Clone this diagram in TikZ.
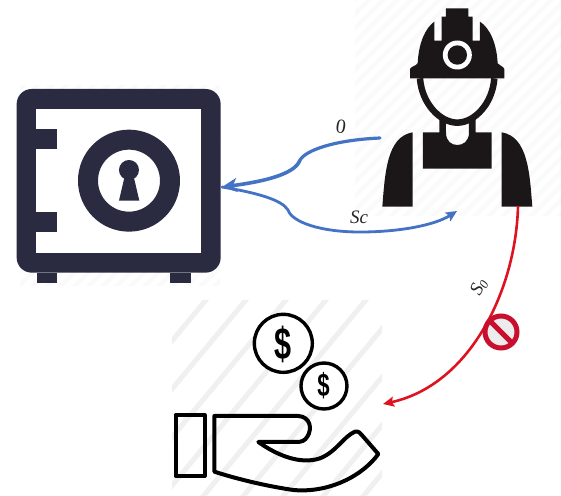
\documentclass[tikz,border=0pt]{standalone}
\usepackage{fontspec}
\setmainfont{Liberation Serif}
\usetikzlibrary{arrows.meta}
\newfontfamily\dollarfont{Liberation Sans}
\definecolor{safenavy}{HTML}{2A2A40}
\definecolor{workerblack}{HTML}{1B1718}
\definecolor{linkblue}{HTML}{4472C4}
\definecolor{linkred}{HTML}{DD1420}
\definecolor{signred}{HTML}{C8102E}
\definecolor{stripegrey}{HTML}{F0F0F0}
\definecolor{faintgrey}{HTML}{FAFAFA}
\tikzset{
  x=1pt,y=-1pt,
  zoomed/.style={x=0.3333pt,y=-0.3333pt},
  safeink/.style={fill=safenavy,draw=none},
  workerink/.style={fill=workerblack,draw=none},
  handline/.style={draw=black,line width=4pt,line join=round,fill=none},
  coinline/.style={draw=black,line width=3.4pt,fill=white},
  dollar/.style={font=\dollarfont\bfseries\fontsize{#1}{#1}\selectfont,inner sep=0pt,text=black},
  bluelink/.style={draw=linkblue,line cap=round},
  redlink/.style={draw=linkred,line width=2.6pt},
  linklabel/.style={inner sep=0pt,text=black!85},
  stripe/.style={line width=5pt,draw=stripegrey},
  faintstripe/.style={line width=4pt,draw=faintgrey}
}
\begin{document}
\begin{tikzpicture}
\useasboundingbox (0,0) rectangle (561,495);
\fill[white] (0,0) rectangle (561,495);
% faint background hatching
\begin{scope}
  \clip (355,0) rectangle (561,215);
  \foreach \i in {0,14,...,440}{\draw[faintstripe] (130+\i,225) -- ++(230,-230);}
\end{scope}
\begin{scope}
  \clip (20,85) rectangle (220,285);
  \foreach \i in {0,14,...,440}{\draw[faintstripe] (-200+\i,295) -- ++(220,-220);}
\end{scope}
\begin{scope}
  \clip (172,300) rectangle (382,495);
  \foreach \i in {0,40,...,440}{\draw[stripe] (\i,500) -- ++(170,-205);}
\end{scope}
% safe
\begin{scope}[shift={(0,80)},zoomed]
  \fill[safeink] (110,578) rectangle (172,610);
  \fill[safeink] (510,578) rectangle (572,610);
  \fill[safeink,rounded corners=15pt] (50,27) rectangle (662,578);
  \fill[white] (108,88) rectangle (603,520);
  \fill[safeink] (100,148) rectangle (172,208);
  \fill[safeink] (100,396) rectangle (172,456);
  \fill[safeink,even odd rule] (387,302) circle[radius=51pt] (387,302) circle[radius=31pt];
  \fill[safeink] (387,270) circle[radius=10pt];
  \fill[safeink] (375,285) -- (400,285) -- (418,362) -- (357,362) -- cycle;
\end{scope}
\node[minimum width=204pt,minimum height=194pt,inner sep=0pt] (safe) at (118,187) {};
% worker
\begin{scope}[shift={(340,0)},zoomed]
  \fill[workerink] (210,235) -- (210,207) .. controls (215,198) and (228,198) .. (233,190)
     .. controls (236,130) and (255,85) .. (283,65) -- (283,122) -- (305,122) -- (305,50)
     -- (318,50) -- (318,25) -- (385,25) -- (385,50) -- (398,50) -- (398,122) -- (420,122)
     -- (420,65) .. controls (450,85) and (470,130) .. (473,190)
     .. controls (478,198) and (490,198) .. (493,207) -- (493,235) -- cycle;
  \fill[white] (352,165) circle[radius=14.5pt];
  \fill[workerink] (352,165) circle[radius=9.7pt];
  % chin strap
  \draw[workerblack,line width=6.5pt] (240,235) .. controls (245,310) and (300,368) .. (352,368)
     .. controls (404,368) and (458,310) .. (463,235);
  % chest with neck
  \fill[workerink] (249,397) -- (298,397) -- (298,355) -- (318,370) -- (318,397)
     .. controls (318,425) and (335,435) .. (352,435) .. controls (369,435) and (387,425) .. (387,397)
     -- (387,370) -- (407,355) -- (407,397) -- (455,397) -- (455,506) -- (249,506) -- cycle;
  % arms
  \fill[workerink] (218,397) -- (218,620) -- (127,620) .. controls (135,520) and (140,410) .. (218,397) -- cycle;
  \fill[workerink] (485,397) -- (485,620) -- (577,620) .. controls (569,520) and (564,410) .. (485,397) -- cycle;
\end{scope}
\node[minimum width=150pt,minimum height=200pt,inner sep=0pt] (worker) at (457,107) {};
% money
\begin{scope}[shift={(160,290)},zoomed]
  \draw[handline] (47,375) rectangle (134,558);
  \draw[handline] (163,378) -- (415,378) .. controls (450,380) and (458,415) .. (442,440)
     .. controls (435,452) and (425,456) .. (410,456) -- (295,456)
     .. controls (350,495) and (420,525) .. (480,505)
     .. controls (530,485) and (550,440) .. (585,425) .. controls (595,422) and (602,430) .. (608,438)
     -- (655,492) .. controls (610,555) and (510,610) .. (400,600)
     .. controls (330,590) and (240,570) .. (163,545) -- cycle;
  \draw[coinline] (370,160) circle[radius=29pt];
  \draw[coinline] (492,288) circle[radius=23pt];
\end{scope}
\node[dollar=36] (bigdollar) at (283.5,344) {\scalebox{.85}[1.25]{\$}};
\node[dollar=26] (smalldollar) at (323.5,386) {\scalebox{.85}[1.25]{\$}};
\node[minimum width=205pt,minimum height=190pt,inner sep=0pt] (money) at (277,400) {};
% connector ends
\coordinate (safeport) at (222,187);
\coordinate (workerout) at (380,138);
\coordinate (workerback) at (457,211);
\coordinate (workerfoot) at (518,206);
\coordinate (moneyport) at (383,404);
% blue connectors
\draw[bluelink,line width=3.2pt] (workerout) .. controls (335,140) and (306,150) .. (300,160);
\draw[bluelink,line width=3.6pt,line cap=butt,-{Stealth[length=15pt,width=14pt,inset=4pt]}] (300,160) .. controls (295,175) and (260,182) .. (safeport);
\draw[bluelink,line width=2.8pt,-{Stealth[length=11pt,width=10pt,inset=2pt]}] (safeport) .. controls (258,193) and (282,200) .. (288,210)
   .. controls (292,222) and (320,232) .. (360,232) .. controls (400,232) and (435,225) .. (workerback);
% red connector
\draw[redlink,-{Stealth[length=11pt,width=10pt,inset=2pt]}] (workerfoot) .. controls (516,290) and (470,385) .. (moneyport);
% no-entry sign
\node[circle,draw=signred,line width=5pt,minimum size=32pt,fill=white!85!gray,inner sep=0pt] (nosign) at (501,332) {};
\draw[signred,line width=5pt] ([shift={(1,1)}]nosign.north west) -- ([shift={(-1,-1)}]nosign.south east);
% labels
\node[linklabel,rotate=-8,font=\fontsize{20}{20}\selectfont] (zero) at (341,127) {0};
\node[linklabel,font=\itshape\fontsize{19}{19}\selectfont] (sclabel) at (359,217) {Sc};
\node[linklabel,rotate=62,font=\itshape\fontsize{19}{19}\selectfont] (s0label) at (479,287) {S\raisebox{-2pt}{\fontsize{13}{13}\selectfont 0}};
\end{tikzpicture}
\end{document}
